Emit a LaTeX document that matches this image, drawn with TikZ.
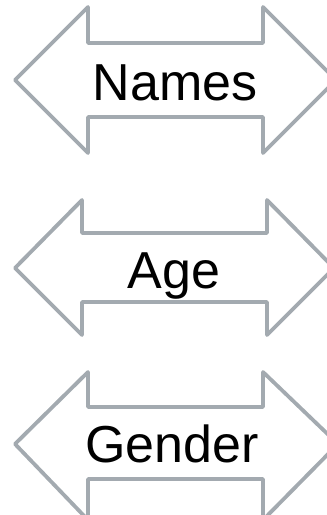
\documentclass[tikz,border=0pt]{standalone}
\usepackage{fontspec}
\setmainfont{Liberation Sans}
\definecolor{arrowgray}{HTML}{A3AAB0}
\tikzset{
  dblarrow/.style={draw=arrowgray, line width=3.8pt, line join=round, fill=white},
  label/.style={font=\fontsize{52}{60}\selectfont, text=black, inner sep=0pt, anchor=base}
}
% #1 tipL x, #2 headbase L x, #3 headbase R x, #4 tipR x, #5 center y, #6 head top, #7 shaft top, #8 shaft bottom, #9 head bottom
\newcommand{\dblarrowpath}[9]{%
  \draw[dblarrow] (#1,#5) -- (#2,#6) -- (#2,#7) -- (#3,#7) -- (#3,#6) -- (#4,#5)
    -- (#3,#9) -- (#3,#8) -- (#2,#8) -- (#2,#9) -- cycle;}
\begin{document}
\begin{tikzpicture}[x=1pt,y=-1pt]
\useasboundingbox (0,0) rectangle (327,515);
\clip (0,0) rectangle (327,515);
\dblarrowpath{15}{88}{263}{336}{80}{7}{43}{117}{153}
\dblarrowpath{15}{82}{267}{334}{268}{200}{233}{302}{335}
\dblarrowpath{15}{88}{263}{338}{444}{372}{407}{479}{520}
\node[label] (names) at (175,100) {Names};
\node[label] (age) at (174,288) {Age};
\node[label] (gender) at (172,462) {Gender};
\end{tikzpicture}
\end{document}
